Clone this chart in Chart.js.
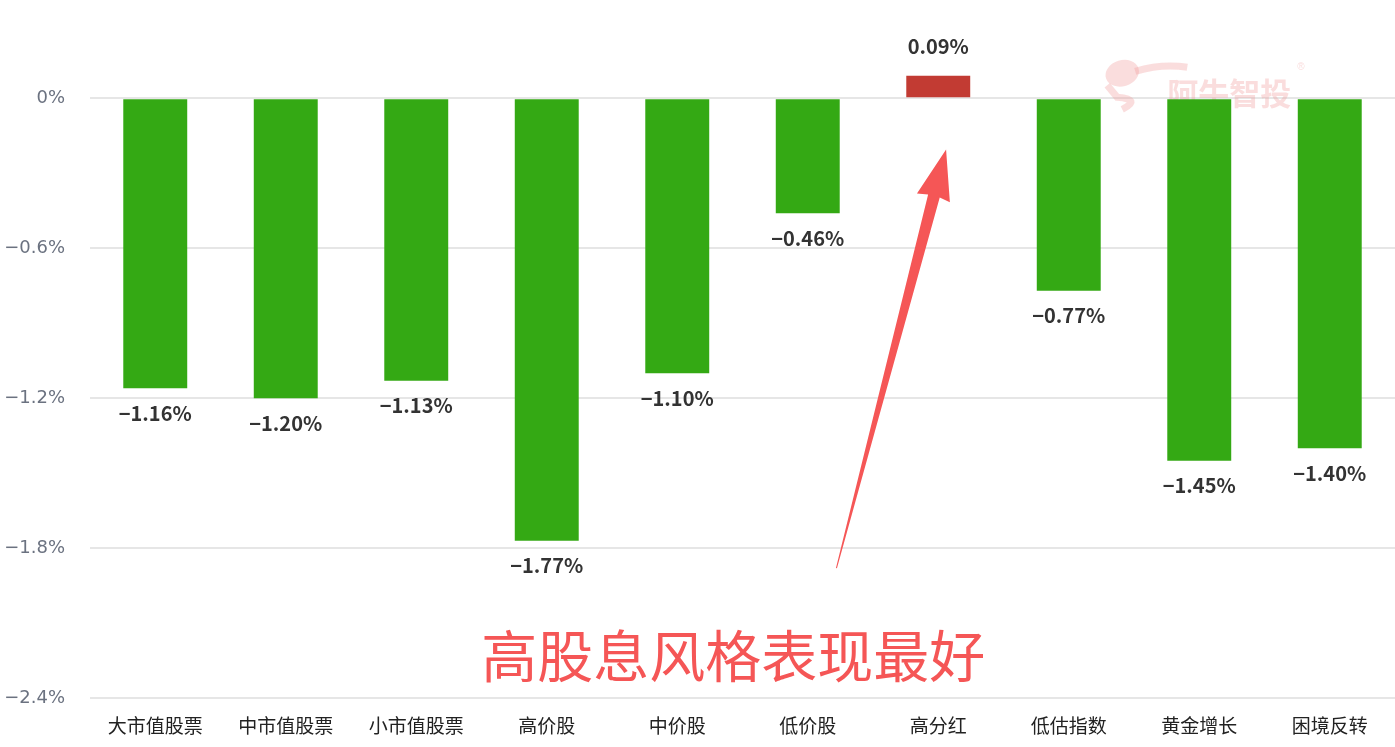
<!DOCTYPE html>
<html>
<head>
<meta charset="utf-8">
<script src="https://cdn.jsdelivr.net/npm/chart.js@4.4.1/dist/chart.umd.min.js"></script>
<style>
  html, body { margin: 0; padding: 0; background: #fff; }
  #wrap { width: 1395px; height: 747px; position: relative; }
</style>
</head>
<body>
<div id="wrap"><canvas id="styleChart" width="1395" height="747"></canvas></div>
<script>
const categories = ['大市值股票', '中市值股票', '小市值股票', '高价股', '中价股', '低价股', '高分红', '低估指数', '黄金增长', '困境反转'];
const returns = [-1.16, -1.20, -1.13, -1.77, -1.10, -0.46, 0.09, -0.77, -1.45, -1.40];
const tickValues = [0, -0.6, -1.2, -1.8, -2.4];
const headline = '高股息风格表现最好';

const CJK = '"Noto Sans CJK SC", "Noto Sans", sans-serif';

// value labels + annotation arrow + watermark
const overlay = {
  id: 'overlay',
  beforeDatasetsDraw(chart) {
    const ctx = chart.ctx;
    const x = chart.scales.x, y = chart.scales.y;
    // watermark
    ctx.save();
    ctx.fillStyle = 'rgba(240,150,150,0.32)';
    ctx.font = 'bold 31px ' + CJK;
    ctx.textAlign = 'left';
    ctx.textBaseline = 'middle';
    const wx = x.getPixelForValue(8) - 32, wy = y.getPixelForValue(0) - 5;
    ctx.fillText('阿牛智投', wx, wy);
    ctx.font = '10px sans-serif';
    ctx.fillText('®', wx + 130, wy - 26);
    ctx.beginPath();
    ctx.ellipse(wx - 45, wy - 20, 17, 13, -0.3, 0, Math.PI * 2);
    ctx.fill();
    ctx.lineWidth = 7;
    ctx.strokeStyle = 'rgba(240,150,150,0.32)';
    ctx.beginPath();
    ctx.moveTo(wx - 32, wy - 22);
    ctx.quadraticCurveTo(wx - 5, wy - 30, wx + 20, wy - 26);
    ctx.moveTo(wx - 60, wy - 8);
    ctx.lineTo(wx - 50, wy + 4);
    ctx.quadraticCurveTo(wx - 25, wy + 6, wx - 45, wy + 16);
    ctx.stroke();
    ctx.restore();
  },
  afterDatasetsDraw(chart) {
    const ctx = chart.ctx;
    const meta = chart.getDatasetMeta(0);
    const x = chart.scales.x, y = chart.scales.y;
    ctx.save();
    ctx.font = '600 20px ' + CJK;
    ctx.fillStyle = '#333';
    ctx.textAlign = 'center';
    ctx.textBaseline = 'middle';
    meta.data.forEach((bar, i) => {
      const v = returns[i];
      const ty = v >= 0 ? bar.y - 29 : bar.y + 25;
      ctx.fillText((v < 0 ? '\u2212' : '') + Math.abs(v).toFixed(2) + '%', bar.x, ty);
    });

    // arrow pointing at 高分红
    const step = x.getPixelForValue(1) - x.getPixelForValue(0);
    const tipX = x.getPixelForValue(6) + 0.06 * step, tipY = y.getPixelForValue(-0.205);
    const baseX = x.getPixelForValue(6) - 0.78 * step, baseY = y.getPixelForValue(-1.88);
    const ang = Math.atan2(tipY - baseY, tipX - baseX);
    const len = Math.hypot(tipX - baseX, tipY - baseY);
    ctx.translate(baseX, baseY);
    ctx.rotate(ang);
    ctx.fillStyle = '#f55656';
    ctx.beginPath();
    ctx.moveTo(0, -0.5);
    ctx.lineTo(len - 48, -6);
    ctx.lineTo(len - 50, -17);
    ctx.lineTo(len, 0);
    ctx.lineTo(len - 50, 17);
    ctx.lineTo(len - 48, 6);
    ctx.lineTo(0, 0.5);
    ctx.closePath();
    ctx.fill();
    ctx.setTransform(1, 0, 0, 1, 0, 0);

    // headline
    ctx.font = '56px ' + CJK;
    ctx.fillStyle = '#f55656';
    ctx.textAlign = 'center';
    ctx.fillText(headline, (x.getPixelForValue(4) + x.getPixelForValue(5)) / 2 - 0.07 * step, y.getPixelForValue(-2.23));
    ctx.restore();
  }
};

new Chart(document.getElementById('styleChart'), {
  type: 'bar',
  data: {
    labels: categories,
    datasets: [{
      data: returns,
      backgroundColor: returns.map(v => v >= 0 ? '#c23b33' : '#34a914'),
      borderWidth: 0,
      barPercentage: 0.49,
      categoryPercentage: 1
    }]
  },
  options: {
    responsive: false,
    animation: false,
    devicePixelRatio: 1,
    layout: { padding: { top: 7, right: 0, left: 0, bottom: 2 } },
    plugins: {
      legend: { display: false },
      tooltip: { enabled: false }
    },
    scales: {
      x: {
        grid: { display: false },
        border: { display: false },
        ticks: {
          color: '#222',
          font: { size: 19, family: CJK },
          padding: 8,
          maxRotation: 0
        }
      },
      y: {
        min: -2.4,
        max: 0.25,
        afterBuildTicks(axis) {
          axis.ticks = tickValues.map(v => ({ value: v }));
        },
        afterFit(axis) { axis.width = 90; },
        grid: { color: '#e6e6e6', lineWidth: 2, drawTicks: false },
        border: { display: false },
        ticks: {
          color: '#6b7280',
          font: { size: 18, family: '"DejaVu Sans", sans-serif' },
          padding: 25,
          callback: v => (v < 0 ? '\u2212' + Math.abs(v) : v) + '%'
        }
      }
    }
  },
  plugins: [overlay]
});
</script>
</body>
</html>
